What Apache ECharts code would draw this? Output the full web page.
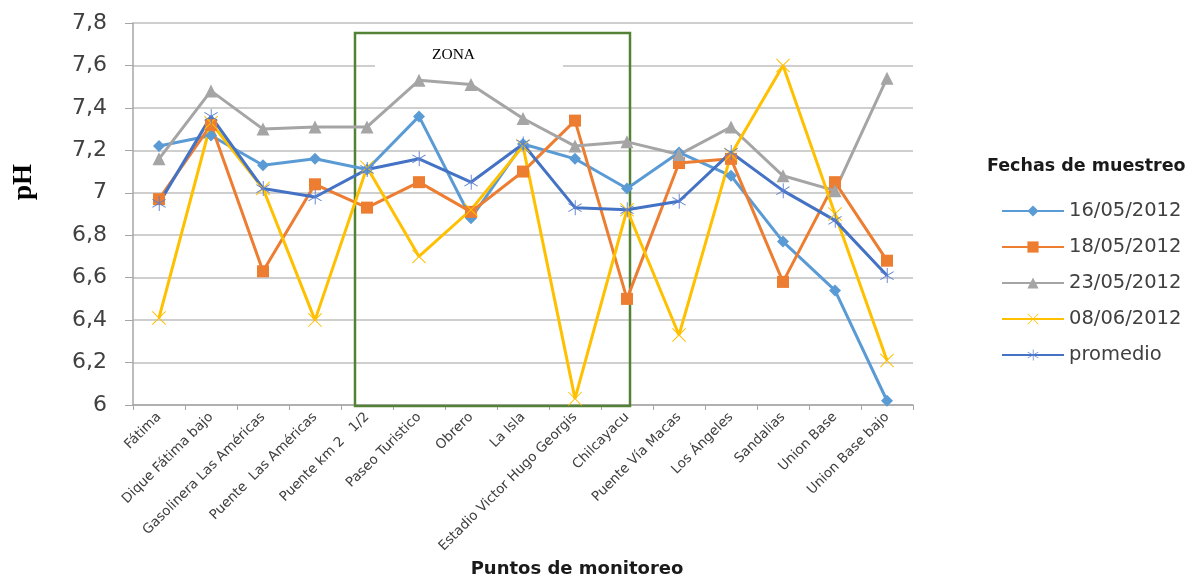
<!DOCTYPE html>
<html>
<head>
<meta charset="utf-8">
<script src="https://cdn.jsdelivr.net/npm/echarts@6/dist/echarts.min.js"></script>
<style>html,body{margin:0;padding:0;background:#fff;}#c{width:1191px;height:580px;}</style>
</head>
<body>
<div id="c"></div>
<script>
const categories = ['Fátima','Dique Fátima bajo','Gasolinera Las Américas','Puente  Las Américas','Puente km 2   1/2','Paseo Turistico','Obrero','La Isla','Estadio Victor Hugo Georgis','Chilcayacu','Puente Vía Macas','Los Ángeles','Sandalias','Union Base','Union Base bajo'];
const s16_05 = [7.22,7.27,7.13,7.16,7.11,7.36,6.88,7.23,7.16,7.02,7.19,7.08,6.77,6.54,6.02];
const s18_05 = [6.97,7.32,6.63,7.04,6.93,7.05,6.91,7.10,7.34,6.50,7.14,7.16,6.58,7.05,6.68];
const s23_05 = [7.16,7.48,7.30,7.31,7.31,7.53,7.51,7.35,7.22,7.24,7.18,7.31,7.08,7.01,7.54];
const s08_06 = [6.41,7.33,7.02,6.40,7.12,6.70,6.92,7.22,6.03,6.92,6.33,7.18,7.60,6.90,6.21];
const promedio = [6.95,7.36,7.02,6.98,7.11,7.16,7.05,7.23,6.93,6.92,6.96,7.19,7.01,6.87,6.61];
const seriesNames = ['16/05/2012','18/05/2012','23/05/2012','08/06/2012','promedio'];
const yTicks = ['6','6,2','6,4','6,6','6,8','7','7,2','7,4','7,6','7,8'];

const xPath = 'path://M1,0L20,19L19,20L0,1ZM19,0L20,1L1,20L0,19Z';
const starPath = 'path://M9.4,0L10.6,0L10.6,20L9.4,20ZM1.2,4.2L18.8,14.8L18.2,15.8L0.6,5.2ZM18.2,4.2L18.8,5.2L1.2,15.8L0.6,14.8Z';

const chart = echarts.init(document.getElementById('c'));
const FONT = 'DejaVu Sans';
function mk(name, data, color, symbol, size, symColor) {
  return {
    name: name, type: 'line', data: data,
    symbol: symbol, symbolSize: size, symbolKeepAspect: true,
    lineStyle: {color: color, width: 3},
    itemStyle: {color: symColor || color},
    emphasis: {disabled: true},
    z: 3
  };
}
chart.setOption({
  animation: false,
  backgroundColor: '#fff',
  grid: {left: 133, right: 278, top: 23, bottom: 175, containLabel: false},
  legend: {
    orient: 'vertical', left: 996, top: 196,
    itemWidth: 62, itemHeight: 14, itemGap: 16,
    data: seriesNames,
    textStyle: {fontFamily: FONT, fontSize: 19.5, color: '#404040'}
  },
  title: {
    text: 'Fechas de muestreo', left: 982, top: 152,
    textStyle: {fontFamily: FONT, fontSize: 17.5, fontWeight: 'bold', color: '#1a1a1a'}
  },
  xAxis: {
    type: 'category', data: categories, boundaryGap: true,
    axisLine: {lineStyle: {color: '#A6A6A6', width: 1.5}},
    axisTick: {show: true, interval: 0, length: 5, lineStyle: {color: '#A6A6A6'}},
    axisLabel: {interval: 0, rotate: 45, margin: 10, fontFamily: FONT, fontSize: 13.5, color: '#404040'},
    splitLine: {show: false}
  },
  yAxis: {
    type: 'value', min: 6, max: 7.8, interval: 0.2,
    axisLine: {show: true, lineStyle: {color: '#A6A6A6', width: 1.5}},
    axisTick: {show: true, length: 8, lineStyle: {color: '#A6A6A6'}},
    axisLabel: {margin: 26, fontFamily: FONT, fontSize: 22, color: '#404040',
      formatter: function (v) { return yTicks[Math.round((v - 6) / 0.2)]; }},
    splitLine: {show: true, lineStyle: {color: '#BFBFBF', width: 1.5}}
  },
  graphic: [
    {type: 'rect', z: 1, shape: {x: 375, y: 42, width: 188, height: 30}, style: {fill: '#fff'}},
    {type: 'text', z: 1, x: 432, y: 47, style: {text: 'ZONA', font: '15.5px "Liberation Serif"', fill: '#000'}},
    {type: 'rect', z: 1, shape: {x: 355, y: 33, width: 275, height: 373}, style: {fill: 'none', stroke: '#538135', lineWidth: 2.5}},
    {type: 'text', z: 1, x: 577, y: 569, style: {text: 'Puntos de monitoreo', font: 'bold 18px "DejaVu Sans"', fill: '#1a1a1a', align: 'center', verticalAlign: 'middle'}},
    {type: 'text', z: 1, x: 24, y: 182, rotation: Math.PI / 2, style: {text: 'pH', font: 'bold 27px "Liberation Serif"', fill: '#000', align: 'center', verticalAlign: 'middle'}}
  ],
  series: [
    mk(seriesNames[0], s16_05, '#5B9BD5', 'diamond', 12),
    mk(seriesNames[1], s18_05, '#ED7D31', 'rect', 12),
    mk(seriesNames[2], s23_05, '#A5A5A5', 'triangle', 13),
    mk(seriesNames[3], s08_06, '#FFC000', xPath, 14),
    mk(seriesNames[4], promedio, '#4472C4', starPath, 15, '#5B7FD0')
  ]
});
</script>
</body>
</html>
